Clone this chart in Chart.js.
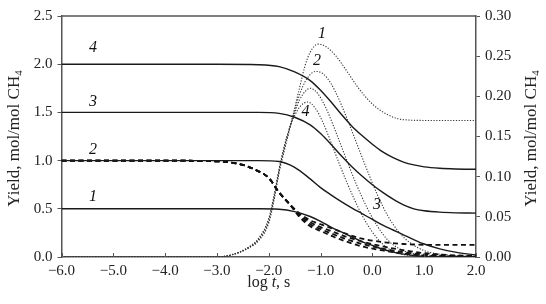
<!DOCTYPE html>
<html>
<head>
<meta charset="utf-8">
<script src="https://cdn.jsdelivr.net/npm/chart.js@4.4.1/dist/chart.umd.min.js"></script>
<style>
html,body{margin:0;padding:0;background:#fff;}
#wrap{width:546px;height:304px;position:relative;}
</style>
</head>
<body>
<div id="wrap"><canvas id="c" width="546" height="304"></canvas></div>
<script>
// ---- data (log t, s) ----
const xTicks = [-6, -5, -4, -3, -2, -1, 0, 1, 2];
const yLeftTicks = [0, 0.5, 1.0, 1.5, 2.0, 2.5];
const yRightTicks = [0, 0.05, 0.10, 0.15, 0.20, 0.25, 0.30];

// solid curves (left axis)
const xSolid = [-6, -3, -2.2, -1.8, -1.5, -1.2, -1.0, -0.8, -0.6, -0.4, -0.2, 0, 0.2, 0.4, 0.6, 0.8, 1.0, 1.3, 1.6, 2.0];
const solid4 = [2.0, 2.0, 1.995, 1.975, 1.92, 1.83, 1.73, 1.61, 1.48, 1.36, 1.26, 1.17, 1.09, 1.03, 0.985, 0.955, 0.935, 0.92, 0.913, 0.91];
const solid3 = [1.5, 1.5, 1.5, 1.49, 1.45, 1.37, 1.28, 1.17, 1.05, 0.94, 0.84, 0.75, 0.67, 0.60, 0.54, 0.50, 0.48, 0.465, 0.458, 0.455];
const solid2 = [1.0, 1.0, 1.0, 0.99, 0.93, 0.81, 0.72, 0.645, 0.575, 0.51, 0.45, 0.39, 0.33, 0.28, 0.23, 0.18, 0.135, 0.085, 0.05, 0.02];
const solid1 = [0.5, 0.5, 0.5, 0.495, 0.47, 0.42, 0.37, 0.31, 0.26, 0.21, 0.16, 0.12, 0.08, 0.05, 0.03, 0.015, 0.007, 0.003, 0.001, 0.0];

// dashed curves (left axis)
const xDashed = [-6, -4, -3.2, -2.8, -2.5, -2.2, -2.0, -1.8, -1.6, -1.4, -1.2, -1.0, -0.75, -0.5, -0.2, 0.2, 0.6, 1.0, 1.5, 2.0];
const dashedA = [1.0, 1.0, 0.995, 0.985, 0.955, 0.89, 0.82, 0.67, 0.55, 0.45, 0.38, 0.34, 0.29, 0.24, 0.19, 0.155, 0.135, 0.127, 0.125, 0.125];
const dashedB = [1.0, 1.0, 0.995, 0.985, 0.955, 0.89, 0.82, 0.67, 0.55, 0.44, 0.36, 0.31, 0.26, 0.21, 0.16, 0.11, 0.07, 0.04, 0.02, 0.01];
const dashedC = [1.0, 1.0, 0.995, 0.985, 0.955, 0.89, 0.82, 0.67, 0.55, 0.425, 0.34, 0.29, 0.235, 0.185, 0.135, 0.087, 0.05, 0.027, 0.012, 0.005];
const dashedD = [1.0, 1.0, 0.995, 0.985, 0.955, 0.89, 0.82, 0.67, 0.55, 0.41, 0.32, 0.27, 0.21, 0.16, 0.11, 0.068, 0.036, 0.016, 0.006, 0.002];

// dotted curves (right axis)
const xDotted1 = [-6, -3.0, -2.7, -2.4, -2.2, -2.0, -1.9, -1.8, -1.7, -1.6, -1.5, -1.4, -1.3, -1.2, -1.05, -0.9, -0.7, -0.5, -0.3, -0.1, 0.1, 0.3, 0.5, 0.7, 1.0, 2.0];
const dotted1 = [0, 0, 0.003, 0.011, 0.02, 0.042, 0.07, 0.105, 0.132, 0.158, 0.185, 0.212, 0.238, 0.255, 0.265, 0.262, 0.25, 0.232, 0.213, 0.197, 0.185, 0.177, 0.172, 0.1705, 0.17, 0.17];
const xDotted2 = [-6, -3, -2.7, -2.4, -2.2, -2.0, -1.9, -1.8, -1.7, -1.6, -1.5, -1.4, -1.3, -1.2, -1.1, -0.95, -0.8, -0.65, -0.5, -0.3, -0.1, 0.1, 0.3, 0.5, 0.7, 1.0, 1.5, 2.0];
const dotted2 = [0, 0, 0.003, 0.011, 0.021, 0.044, 0.072, 0.107, 0.135, 0.16, 0.183, 0.203, 0.218, 0.227, 0.231, 0.228, 0.216, 0.197, 0.174, 0.141, 0.108, 0.077, 0.051, 0.032, 0.019, 0.008, 0.002, 0];
const xDotted3 = [-6, -3, -2.7, -2.4, -2.2, -2.0, -1.9, -1.8, -1.7, -1.6, -1.5, -1.4, -1.3, -1.2, -1.05, -0.9, -0.75, -0.6, -0.45, -0.3, -0.1, 0.1, 0.3, 0.5, 0.8, 1.2, 2.0];
const dotted3 = [0, 0, 0.003, 0.011, 0.022, 0.046, 0.074, 0.108, 0.137, 0.16, 0.18, 0.196, 0.206, 0.21, 0.203, 0.186, 0.163, 0.138, 0.113, 0.089, 0.061, 0.038, 0.021, 0.011, 0.004, 0.001, 0];
const xDotted4 = [-6, -3, -2.7, -2.4, -2.2, -2.0, -1.9, -1.8, -1.7, -1.6, -1.5, -1.4, -1.25, -1.1, -0.95, -0.8, -0.65, -0.5, -0.35, -0.2, 0, 0.2, 0.4, 0.7, 1.0, 2.0];
const dotted4 = [0, 0, 0.003, 0.012, 0.023, 0.048, 0.076, 0.11, 0.138, 0.16, 0.176, 0.187, 0.193, 0.185, 0.167, 0.143, 0.118, 0.094, 0.072, 0.052, 0.031, 0.016, 0.007, 0.002, 0.001, 0];

// curve number labels: text, log t, left-axis value
const labelText = ['4', '3', '2', '1', '1', '2', '4', '3'];
const labelX = [-5.39, -5.39, -5.39, -5.39, -0.97, -1.07, -1.29, 0.09];
const labelY = [2.165, 1.61, 1.11, 0.625, 2.32, 2.04, 1.51, 0.54];

const SERIF = "Liberation Serif";
const AX = '#555';
const FS = 15;

function pts(xs, ys) { return xs.map((x, i) => ({x: x, y: ys[i]})); }
function fmtNum(v, d) { const s = Math.abs(v).toFixed(d); return v < -1e-9 ? '\u2212' + s : s; }

const solidStyle = {borderColor: '#1a1a1a', borderWidth: 1.4, pointRadius: 0, cubicInterpolationMode: 'monotone', yAxisID: 'y', fill: false};
const dashStyle = {borderColor: '#111', borderWidth: 1.8, borderDash: [5, 3.5], pointRadius: 0, cubicInterpolationMode: 'monotone', yAxisID: 'y', fill: false};
const dotStyle = {borderColor: '#333', borderWidth: 1.1, borderDash: [1.2, 1.6], pointRadius: 0, cubicInterpolationMode: 'monotone', yAxisID: 'y2', fill: false};

const datasets = [
  Object.assign({data: pts(xSolid, solid4)}, solidStyle),
  Object.assign({data: pts(xSolid, solid3)}, solidStyle),
  Object.assign({data: pts(xSolid, solid2)}, solidStyle),
  Object.assign({data: pts(xSolid, solid1)}, solidStyle),
  Object.assign({data: pts(xDashed, dashedA)}, dashStyle),
  Object.assign({data: pts(xDashed, dashedB)}, dashStyle),
  Object.assign({data: pts(xDashed, dashedC)}, dashStyle),
  Object.assign({data: pts(xDashed, dashedD)}, dashStyle),
  Object.assign({data: pts(xDotted1, dotted1)}, dotStyle),
  Object.assign({data: pts(xDotted2, dotted2)}, dotStyle),
  Object.assign({data: pts(xDotted3, dotted3)}, dotStyle),
  Object.assign({data: pts(xDotted4, dotted4)}, dotStyle)
];

const decor = {
  id: 'decor',
  afterDraw(chart) {
    const ctx = chart.ctx, a = chart.chartArea;
    const sx = chart.scales.x, sy = chart.scales.y;
    ctx.save();
    ctx.strokeStyle = AX; ctx.lineWidth = 1.5;
    ctx.beginPath(); ctx.moveTo(a.left, a.top); ctx.lineTo(a.right, a.top); ctx.stroke();
    ctx.lineWidth = 1;
    xTicks.forEach(v => {
      const px = Math.round(sx.getPixelForValue(v)) + 0.5;
      ctx.beginPath(); ctx.moveTo(px, a.bottom); ctx.lineTo(px, a.bottom - 4); ctx.stroke();
    });
    ctx.fillStyle = '#111';
    ctx.font = 'italic 16px ' + SERIF;
    ctx.textAlign = 'center'; ctx.textBaseline = 'middle';
    labelText.forEach((t, i) => {
      ctx.fillText(t, sx.getPixelForValue(labelX[i]), sy.getPixelForValue(labelY[i]));
    });
    ctx.fillStyle = '#222';
    const drawYTitle = (cx, cy) => {
      ctx.save();
      ctx.translate(cx, cy); ctx.rotate(-Math.PI / 2);
      ctx.font = '17px ' + SERIF;
      const main = 'Yield, mol/mol CH';
      const w1 = ctx.measureText(main).width;
      ctx.font = '11px ' + SERIF;
      const w2 = ctx.measureText('4').width;
      const x0 = -(w1 + w2) / 2;
      ctx.textAlign = 'left'; ctx.textBaseline = 'middle';
      ctx.font = '17px ' + SERIF;
      ctx.fillText(main, x0, 0);
      ctx.font = '11px ' + SERIF;
      ctx.fillText('4', x0 + w1, 4.5);
      ctx.restore();
    };
    drawYTitle(15, (a.top + a.bottom) / 2 + 2);
    drawYTitle(532, (a.top + a.bottom) / 2 + 2);
    ctx.textBaseline = 'middle'; ctx.textAlign = 'left';
    const XF = '16px ' + SERIF, XFI = 'italic 16px ' + SERIF;
    ctx.font = XF;
    const p1 = 'log ', p3 = ', s';
    const w1 = ctx.measureText(p1).width, w3 = ctx.measureText(p3).width;
    ctx.font = XFI;
    const w2 = ctx.measureText('t').width;
    let x0 = (a.left + a.right) / 2 - (w1 + w2 + w3) / 2;
    const ty = 283;
    ctx.font = XF; ctx.fillText(p1, x0, ty);
    ctx.font = XFI; ctx.fillText('t', x0 + w1, ty);
    ctx.font = XF; ctx.fillText(p3, x0 + w1 + w2, ty);
    ctx.restore();
  }
};

new Chart(document.getElementById('c'), {
  type: 'line',
  data: {datasets: datasets},
  options: {
    responsive: false,
    animation: false,
    events: [],
    layout: {padding: {top: 16, left: 0, right: 0, bottom: 0}},
    plugins: {legend: {display: false}, tooltip: {enabled: false}},
    scales: {
      x: {
        type: 'linear', min: -6, max: 2,
        afterBuildTicks: s => { s.ticks = xTicks.map(v => ({value: v})); },
        afterFit: s => { s.height = 47; },
        grid: {display: true, drawOnChartArea: false, drawTicks: false},
        border: {display: true, color: AX, width: 1.5},
        ticks: {padding: 5, color: '#222', font: {family: SERIF, size: FS}, maxRotation: 0, callback: v => fmtNum(v, 1)}
      },
      y: {
        type: 'linear', position: 'left', min: 0, max: 2.5,
        afterBuildTicks: s => { s.ticks = yLeftTicks.map(v => ({value: v})); },
        afterFit: s => { s.width = 61.5; },
        grid: {display: true, drawOnChartArea: false, drawTicks: true, tickLength: 4, color: AX},
        border: {display: true, color: AX, width: 1.5},
        ticks: {padding: 5, color: '#222', font: {family: SERIF, size: FS}, callback: v => fmtNum(v, 1)}
      },
      y2: {
        type: 'linear', position: 'right', min: 0, max: 0.3,
        afterBuildTicks: s => { s.ticks = yRightTicks.map(v => ({value: v})); },
        afterFit: s => { s.width = 70; },
        grid: {display: true, drawOnChartArea: false, drawTicks: true, tickLength: 4, color: AX},
        border: {display: true, color: AX, width: 1.5},
        ticks: {padding: 5, color: '#222', font: {family: SERIF, size: FS}, callback: v => fmtNum(v, 2)}
      }
    }
  },
  plugins: [decor]
});
</script>
</body>
</html>
